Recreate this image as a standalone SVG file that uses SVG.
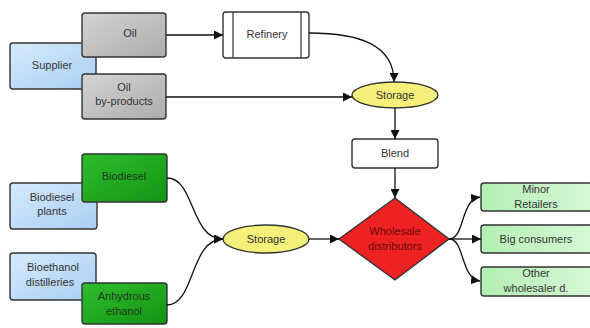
<svg xmlns="http://www.w3.org/2000/svg" width="590" height="328" viewBox="0 0 590 328">
<defs>
<linearGradient id="gBlue" x1="0" y1="0" x2="1" y2="1"><stop offset="0" stop-color="#d6eafc"/><stop offset="1" stop-color="#a9cff4"/></linearGradient>
<linearGradient id="gGray" x1="0" y1="0" x2="1" y2="1"><stop offset="0" stop-color="#d4d4d4"/><stop offset="1" stop-color="#acacac"/></linearGradient>
<linearGradient id="gDark" x1="0" y1="0" x2="1" y2="1"><stop offset="0" stop-color="#2ebd2e"/><stop offset="1" stop-color="#149414"/></linearGradient>
<linearGradient id="gLight" x1="0" y1="0" x2="1" y2="0"><stop offset="0" stop-color="#b4efb4"/><stop offset="1" stop-color="#d6f8d6"/></linearGradient>
<marker id="arr" viewBox="0 0 10 10" refX="10" refY="5" markerWidth="9" markerHeight="9" markerUnits="userSpaceOnUse" orient="auto"><path d="M0,0 L10,5 L0,10 z" fill="#111"/></marker>
<style>
.box{stroke:#333;stroke-width:1.4}
.t{font-family:"Liberation Sans",Arial,sans-serif;font-size:11px;fill:#333;text-anchor:middle}
.c{fill:none;stroke:#111;stroke-width:1.3;marker-end:url(#arr)}
</style>
</defs>
<rect width="590" height="328" fill="#fff"/>
<g id="supplier"><rect class="box" x="10" y="43" width="86" height="46" rx="3" fill="url(#gBlue)"/><text class="t" x="52" y="69">Supplier</text></g>
<g id="oil"><rect class="box" x="82" y="13" width="84" height="44" rx="3" fill="url(#gGray)"/><text class="t" x="130" y="37">Oil</text></g>
<g id="oil-byproducts"><rect class="box" x="82" y="74" width="84" height="45" rx="3" fill="url(#gGray)"/><text class="t" x="124" y="91">Oil</text><text class="t" x="124" y="105">by-products</text></g>
<g id="refinery"><rect class="box" x="223" y="12" width="86" height="46" rx="3" fill="#fff"/><line x1="233" y1="12" x2="233" y2="58" stroke="#333" stroke-width="1.2"/><line x1="301" y1="12" x2="301" y2="58" stroke="#333" stroke-width="1.2"/><text class="t" x="267" y="38">Refinery</text></g>
<g id="storage-top"><ellipse class="box" cx="395" cy="95" rx="43" ry="13" fill="#f5f07a"/><text class="t" x="395" y="99">Storage</text></g>
<g id="blend"><rect class="box" x="352" y="139" width="86" height="29" rx="3" fill="#fff"/><text class="t" x="395" y="157">Blend</text></g>
<g id="biodiesel-plants"><rect class="box" x="10" y="183" width="87" height="46" rx="3" fill="url(#gBlue)"/><text class="t" x="52" y="201">Biodiesel</text><text class="t" x="52" y="215">plants</text></g>
<g id="biodiesel"><rect class="box" x="82" y="154" width="85" height="48" rx="3" fill="url(#gDark)"/><text class="t" x="124" y="180" style="fill:#1a3a1a">Biodiesel</text></g>
<g id="bioethanol-distilleries"><rect class="box" x="10" y="253" width="86" height="47" rx="3" fill="url(#gBlue)"/><text class="t" x="53" y="271">Bioethanol</text><text class="t" x="50" y="286">distilleries</text></g>
<g id="anhydrous-ethanol"><rect class="box" x="82" y="283" width="85" height="41" rx="3" fill="url(#gDark)"/><text class="t" x="124" y="300" style="fill:#1a3a1a">Anhydrous</text><text class="t" x="124" y="315" style="fill:#1a3a1a">ethanol</text></g>
<g id="storage-bottom"><ellipse class="box" cx="266" cy="239" rx="43" ry="14" fill="#f5f07a"/><text class="t" x="266" y="243">Storage</text></g>
<g id="wholesale-distributors"><polygon class="box" points="395,198 449,239 395,280 339,239" fill="#ee2222"/><text class="t" x="395" y="235" style="fill:#6a0a0a">Wholesale</text><text class="t" x="395" y="250" style="fill:#6a0a0a">distributors</text></g>
<g id="minor-retailers"><rect class="box" x="481" y="183" width="112" height="28" rx="3" fill="url(#gLight)"/><text class="t" x="536" y="193">Minor</text><text class="t" x="536" y="208">Retailers</text></g>
<g id="big-consumers"><rect class="box" x="481" y="225" width="112" height="28" rx="3" fill="url(#gLight)"/><text class="t" x="536" y="243">Big consumers</text></g>
<g id="other-wholesaler"><rect class="box" x="481" y="267" width="112" height="29" rx="3" fill="url(#gLight)"/><text class="t" x="536" y="277">Other</text><text class="t" x="536" y="292">wholesaler d.</text></g>
<g id="connectors">
<path class="c" d="M166,35 L223,35"/>
<path class="c" d="M166,97 L352,97"/>
<path class="c" d="M309,33 C360,33 394,45 394,82"/>
<path class="c" d="M395,108 L395,139"/>
<path class="c" d="M395,168 L395,198"/>
<path class="c" d="M309,239 L339,239"/>
<path class="c" d="M167,178 C195,178 190,239 223,239"/>
<path class="c" d="M167,305 C195,305 190,239 223,239"/>
<path class="c" d="M449,239 C465,239 460,200 480,197"/>
<path class="c" d="M449,239 L481,239"/>
<path class="c" d="M449,239 C465,239 460,278 480,281"/>
</g>
</svg>
